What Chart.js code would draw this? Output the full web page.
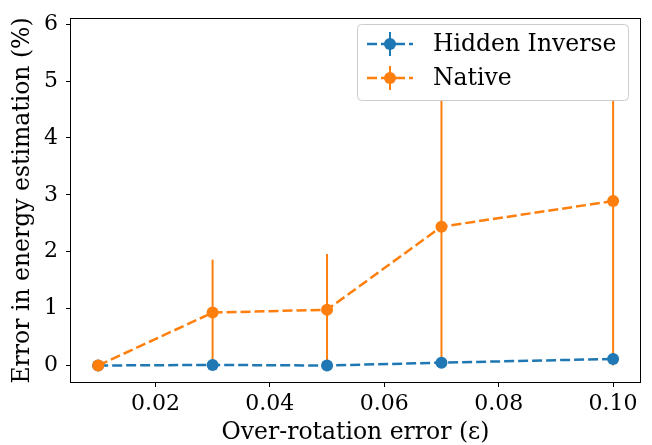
<!DOCTYPE html>
<html>
<head>
<meta charset="utf-8">
<script src="https://cdn.jsdelivr.net/npm/chart.js@4.4.1/dist/chart.umd.min.js"></script>
<style>
html, body { margin: 0; padding: 0; background: #fff; }
</style>
</head>
<body>
<canvas id="chart" width="652" height="445"></canvas>
<script>
// Datos
const epsilons = [0.01, 0.03, 0.05, 0.07, 0.10];
const hiddenVals = [0.0, 0.01, 0.0, 0.05, 0.115];
const hiddenErr = [0.0, 0.01, 0.01, 0.02, 0.03];
const nativeVals = [0.0, 0.93, 0.98, 2.44, 2.89];
const nativeErr = [0.0, 0.93, 0.98, 2.44, 2.89];
const xTicks = [0.02, 0.04, 0.06, 0.08, 0.10];
const yTicks = [0, 1, 2, 3, 4, 5, 6];

const BLUE = '#1f77b4';
const ORANGE = '#ff7f0e';
const FONT = 'DejaVu Serif';

const toPoints = vals => vals.map((v, i) => ({ x: epsilons[i], y: v }));

// Barras de error (simétricas), dibujadas con las escalas del gráfico
const errorBars = {
    id: 'errorBars',
    beforeDatasetsDraw(chart) {
        const { ctx, chartArea, scales: { x, y } } = chart;
        ctx.save();
        ctx.beginPath();
        ctx.rect(chartArea.left, chartArea.top, chartArea.width, chartArea.height);
        ctx.clip();
        chart.data.datasets.forEach(ds => {
            ctx.strokeStyle = ds.borderColor;
            ctx.lineWidth = 2;
            ds.data.forEach((p, i) => {
                const e = ds.err[i];
                if (!e) return;
                const px = x.getPixelForValue(p.x);
                ctx.beginPath();
                ctx.moveTo(px, y.getPixelForValue(p.y - e));
                ctx.lineTo(px, y.getPixelForValue(p.y + e));
                ctx.stroke();
            });
        });
        ctx.restore();
    }
};

// Marco y leyenda estilo matplotlib
const frameAndLegend = {
    id: 'frameAndLegend',
    afterDraw(chart) {
        const { ctx, chartArea: a } = chart;
        ctx.save();
        ctx.strokeStyle = '#000';
        ctx.lineWidth = 1;
        ctx.strokeRect(Math.round(a.left) - 0.5, Math.round(a.top) - 0.5,
            Math.round(a.right - a.left) + 1, Math.round(a.bottom - a.top) + 1);

        // leyenda
        const bx = 357.5, by = 24.5, bw = 271, bh = 76, r = 4;
        ctx.beginPath();
        ctx.roundRect(bx, by, bw, bh, r);
        ctx.fillStyle = '#fff';
        ctx.fill();
        ctx.strokeStyle = '#cccccc';
        ctx.stroke();

        chart.data.datasets.slice().sort((p, q) => p.legendIndex - q.legendIndex).forEach((ds, i) => {
            const cy = 44 + i * 34;
            ctx.strokeStyle = ds.borderColor;
            ctx.lineWidth = 2.5;
            ctx.setLineDash([10, 4]);
            ctx.beginPath();
            ctx.moveTo(367, cy);
            ctx.lineTo(413, cy);
            ctx.stroke();
            ctx.setLineDash([]);
            ctx.lineWidth = 2;
            ctx.beginPath();
            ctx.moveTo(390, cy - 12);
            ctx.lineTo(390, cy + 12);
            ctx.stroke();
            ctx.fillStyle = ds.borderColor;
            ctx.beginPath();
            ctx.arc(390, cy, 6, 0, Math.PI * 2);
            ctx.fill();
            ctx.fillStyle = '#000';
            ctx.font = '23.5px "' + FONT + '"';
            ctx.textBaseline = 'middle';
            ctx.textAlign = 'left';
            ctx.fillText(ds.label, 433, cy + 1);
        });
        ctx.restore();
    }
};

const ctx = document.getElementById('chart').getContext('2d');
new Chart(ctx, {
    type: 'line',
    data: {
        datasets: [
            {
                label: 'Hidden Inverse',
                legendIndex: 0,
                order: 1,
                data: toPoints(hiddenVals),
                err: hiddenErr,
                borderColor: BLUE,
                backgroundColor: BLUE,
                borderWidth: 2.5,
                borderDash: [10, 4],
                pointRadius: 6,
                pointBorderWidth: 0,
                pointBackgroundColor: BLUE,
                tension: 0
            },
            {
                label: 'Native',
                legendIndex: 1,
                order: 0,
                data: toPoints(nativeVals),
                err: nativeErr,
                borderColor: ORANGE,
                backgroundColor: ORANGE,
                borderWidth: 2.5,
                borderDash: [10, 4],
                pointRadius: 6,
                pointBorderWidth: 0,
                pointBackgroundColor: ORANGE,
                tension: 0
            }
        ]
    },
    options: {
        responsive: false,
        animation: false,
        devicePixelRatio: 1,
        layout: { padding: { top: 10, right: 12, left: 0, bottom: 0 } },
        plugins: {
            legend: { display: false },
            tooltip: { enabled: false }
        },
        scales: {
            x: {
                type: 'linear',
                min: 0.00525,
                max: 0.1047,
                afterBuildTicks: s => { s.ticks = xTicks.map(v => ({ value: v })); },
                afterFit: s => { s.height = 63; },
                border: { display: false },
                grid: { drawOnChartArea: false, drawTicks: true, tickLength: 5, color: '#000' },
                ticks: {
                    color: '#000',
                    padding: 6,
                    maxRotation: 0,
                    font: { family: FONT, size: 22, lineHeight: 1 },
                    callback: v => v.toFixed(2)
                },
                title: {
                    display: true,
                    text: 'Over-rotation error (ε)',
                    color: '#000',
                    font: { family: FONT, size: 23.5, lineHeight: 1 },
                    padding: { top: 0, bottom: 0 }
                }
            },
            y: {
                type: 'linear',
                min: -0.29,
                max: 6.09,
                afterBuildTicks: s => { s.ticks = yTicks.map(v => ({ value: v })); },
                afterFit: s => { s.width = 71; },
                border: { display: false },
                grid: { drawOnChartArea: false, drawTicks: true, tickLength: 5, color: '#000' },
                ticks: {
                    color: '#000',
                    padding: 8,
                    font: { family: FONT, size: 22, lineHeight: 1 },
                    callback: v => String(v)
                },
                title: {
                    display: true,
                    text: 'Error in energy estimation (%)',
                    color: '#000',
                    font: { family: FONT, size: 23.5, lineHeight: 1 },
                    padding: { top: 11, bottom: 0 }
                }
            }
        }
    },
    plugins: [errorBars, frameAndLegend]
});
</script>
</body>
</html>
